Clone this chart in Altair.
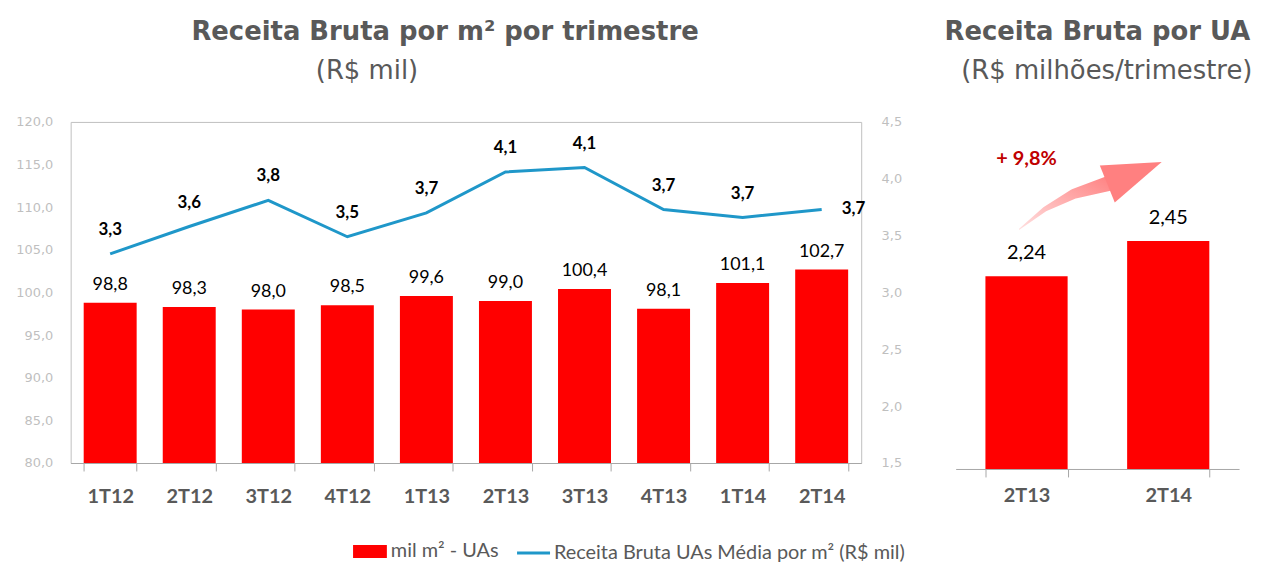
import altair as alt
import pandas as pd

# ---------------- data ----------------
quarters = ["1T12", "2T12", "3T12", "4T12", "1T13", "2T13", "3T13", "4T13", "1T14", "2T14"]
area_mil_m2 = [98.8, 98.3, 98.0, 98.5, 99.6, 99.0, 100.4, 98.1, 101.1, 102.7]
receita_m2 = [3.34, 3.58, 3.81, 3.49, 3.70, 4.06, 4.10, 3.73, 3.66, 3.73]
left_ticks = [80, 85, 90, 95, 100, 105, 110, 115, 120]
right_ticks = [1.5, 2.0, 2.5, 3.0, 3.5, 4.0, 4.5]

ua_quarters = ["2T13", "2T14"]
ua_values = [2.24, 2.45]

growth_text = ["+ 9,8%"]
growth_x = [0.0]
growth_y = [2.94]

# growth arrow (x: 0 = 2T13, 1 = 2T14 ; y in R$ milhões)
arrow_x = [-0.05, 0.13, 0.33, 0.57]
arrow_y = [2.52, 2.64, 2.73, 2.79]
arrow_w = [1, 5, 10, 15]

left_title = "Receita Bruta por m² por trimestre"
left_subtitle = ["(R$ mil)"]
right_title = "Receita Bruta por UA"
right_subtitle = ["(R$ milhões/trimestre)"]
bar_series = "mil m² - UAs"
line_series = "Receita Bruta UAs Média por m² (R$ mil)"

GRAY = "#595959"
LIGHT = "#BFBFBF"
RED = "#FF0000"
BLUE = "#1F97C9"
fmt1 = "replace(format(datum.value, '.1f'), '.', ',')"

df = pd.DataFrame({"q": quarters, "area": area_mil_m2, "rec": receita_m2})
df["serie_bar"] = bar_series
df["serie_line"] = line_series

x_enc = alt.X(
    "q:N", sort=quarters, title=None,
    scale=alt.Scale(paddingInner=0.33, paddingOuter=0.165),
    axis=alt.Axis(labelFont="Lato", labelFontWeight="bold", labelFontSize=20,
                  labelColor=GRAY, labelAngle=0, domainColor="#A6A6A6",
                  tickColor="#A6A6A6", tickSize=8, tickBand="extent",
                  labelPadding=16),
)

y_left = alt.Y(
    "area:Q",
    scale=alt.Scale(domain=[80, 120], nice=False, zero=False),
    axis=alt.Axis(orient="left", title=None, values=left_ticks, labelExpr=fmt1,
                  labelFont="DejaVu Sans", labelFontSize=13, labelColor=LIGHT,
                  domain=False, ticks=False, grid=False, labelPadding=18),
)
y_right = alt.Y(
    "rec:Q",
    scale=alt.Scale(domain=[1.5, 4.5], nice=False, zero=False),
    axis=alt.Axis(orient="right", title=None, values=right_ticks, labelExpr=fmt1,
                  labelFont="DejaVu Sans", labelFontSize=13, labelColor=LIGHT,
                  domain=False, ticks=False, grid=False, labelPadding=20),
)

base = alt.Chart(df).encode(x=x_enc).transform_calculate(
    alab="replace(format(datum.area, '.1f'), '.', ',')",
    rlab="replace(format(datum.rec, '.1f'), '.', ',')",
)

bars = base.mark_bar(clip=True).encode(
    y=y_left,
    color=alt.Color("serie_bar:N", scale=alt.Scale(range=[RED]),
                    legend=alt.Legend(orient="none", legendX=284, legendY=415, title=None,
                                      symbolType="M-1,-0.38H1V0.38H-1Z", symbolSize=1156,
                                      symbolStrokeWidth=0, labelFont="Lato", labelFontSize=20,
                                      labelColor=GRAY, labelOffset=4, labelLimit=0)),
)
bar_labels = base.mark_text(font="Lato", fontSize=18, color="#000000", dy=-18).encode(
    y=y_left, text="alab:N")

line = base.mark_line(strokeWidth=3).encode(
    y=y_right,
    stroke=alt.Stroke("serie_line:N", scale=alt.Scale(range=[BLUE]),
                      legend=alt.Legend(orient="none", legendX=447, legendY=415, title=None,
                                        symbolType="stroke", symbolSize=1100,
                                        symbolStrokeWidth=3, labelFont="Lato", labelFontSize=20,
                                        labelColor=GRAY, labelOffset=2, labelLimit=0)),
)
line_labels = base.mark_text(font="Lato", fontSize=17, fontWeight="bold", color="#000000",
                             dy=-24).encode(y=y_right, text="rlab:N").transform_filter(
    alt.datum.q != quarters[-1])
line_label_last = base.mark_text(font="Lato", fontSize=17, fontWeight="bold", color="#000000",
                                 dx=32).encode(y=y_right, text="rlab:N").transform_filter(
    alt.datum.q == quarters[-1])

left_sub = alt.Chart(pd.DataFrame({"t": left_subtitle})).mark_text(
    font="DejaVu Sans", fontSize=26, color=GRAY).encode(
    text="t:N", x=alt.value(298), y=alt.value(-51))

left = alt.layer(
    alt.layer(bars, bar_labels),
    alt.layer(line, line_labels, line_label_last),
    left_sub,
).resolve_scale(y="independent").properties(
    width=795, height=343,
    view=alt.ViewBackground(stroke=LIGHT),
    title=alt.TitleParams(
        text=left_title, font="DejaVu Sans", fontSize=26, fontWeight="bold", color=GRAY,
        anchor="middle", dx=-21, offset=13,
    ),
)

# ---------------- right panel ----------------
ua_df = pd.DataFrame({"q": ua_quarters, "v": ua_values})
y_ua = alt.Y("v:Q", scale=alt.Scale(domain=[1.09, 3.16], nice=False, zero=False), axis=None)
ua_base = alt.Chart(ua_df).encode(
    x=alt.X("q:N", sort=ua_quarters, title=None,
            scale=alt.Scale(paddingInner=0.42, paddingOuter=0.21),
            axis=alt.Axis(labelFont="Lato", labelFontWeight="bold", labelFontSize=20,
                          labelColor=GRAY, labelAngle=0, domainColor="#A6A6A6",
                          tickColor="#A6A6A6", tickSize=8, tickBand="extent",
                          labelPadding=9)),
).transform_calculate(lab="replace(format(datum.v, '.2f'), '.', ',')")
ua_bars = ua_base.mark_bar(color=RED, clip=True).encode(y=y_ua)
ua_labels = ua_base.mark_text(font="Lato", fontSize=20, color="#000000", dy=-23).encode(
    y=y_ua, text="lab:N")

arrow_df = pd.DataFrame({"ax": arrow_x, "ay": arrow_y, "aw": arrow_w,
                         "i": list(range(len(arrow_x)))})
x_arrow = alt.X("ax:Q", scale=alt.Scale(domain=[-0.5, 1.5], nice=False, zero=False), axis=None)
y_arrow = alt.Y("ay:Q", scale=alt.Scale(domain=[1.09, 3.16], nice=False, zero=False), axis=None)
pink_grad = alt.Gradient(gradient="linear",
                         stops=[alt.GradientStop(color="#FFE0E0", offset=0),
                                alt.GradientStop(color="#FF8080", offset=1)],
                         x1=0, x2=1, y1=1, y2=0)
trail = alt.Chart(arrow_df).mark_trail(color=pink_grad).encode(
    x=x_arrow, y=y_arrow, size=alt.Size("aw:Q", scale=None, legend=None), order="i:O")
head = alt.Chart(arrow_df).mark_point(
    shape="M0,-1L0.34,0L-0.34,0Z", filled=True, size=13924, angle=68,
    color="#FF8080", opacity=1).encode(x=x_arrow, y=y_arrow).transform_filter(
    alt.datum.i == len(arrow_x) - 1)

growth_df = pd.DataFrame({"gx": growth_x, "gy": growth_y, "t": growth_text})
growth = alt.Chart(growth_df).mark_text(font="Lato", fontSize=20, fontWeight="bold",
                                        color="#C00000").encode(
    x=alt.X("gx:Q", scale=alt.Scale(domain=[-0.5, 1.5], nice=False, zero=False), axis=None),
    y=alt.Y("gy:Q", scale=alt.Scale(domain=[1.09, 3.16], nice=False, zero=False), axis=None),
    text="t:N")

right_sub = alt.Chart(pd.DataFrame({"t": right_subtitle})).mark_text(
    font="DejaVu Sans", fontSize=26, color=GRAY).encode(
    text="t:N", x=alt.value(152), y=alt.value(-51))

right = alt.layer(
    alt.layer(ua_bars, ua_labels),
    alt.layer(trail, head, growth),
    right_sub,
).resolve_scale(x="independent").properties(
    width=285, height=349,
    title=alt.TitleParams(
        text=right_title, font="DejaVu Sans", fontSize=26, fontWeight="bold", color=GRAY,
        anchor="middle", offset=13,
    ),
)

chart = alt.hconcat(left, right, spacing=41).configure_view(stroke=None).properties(
    padding={"left": 7, "top": 9, "right": 0, "bottom": 0})

chart.save("out.html", embed_options={"renderer": "svg", "actions": False})
